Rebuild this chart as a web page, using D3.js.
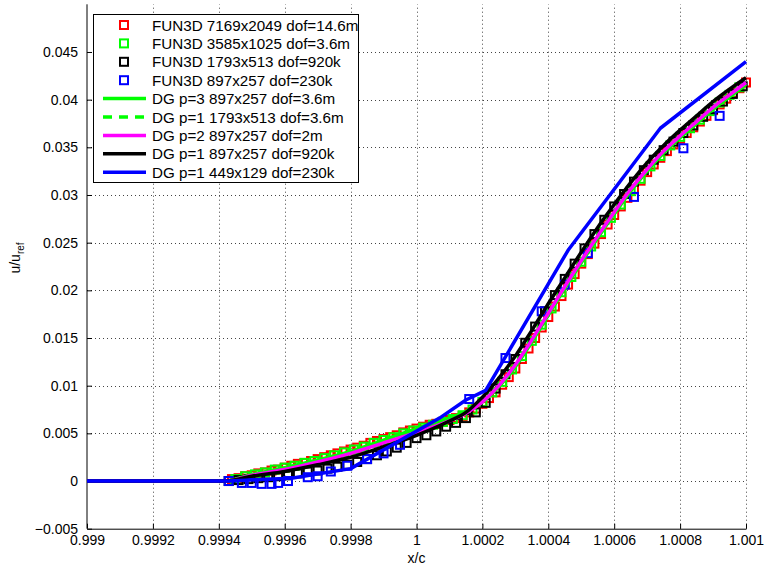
<!DOCTYPE html>
<html>
<head>
<meta charset="utf-8">
<script src="https://cdn.jsdelivr.net/npm/d3@7"></script>
<style>
  body { margin: 0; background: #fff; }
  svg { display: block; font-family: "Liberation Sans", Arial, Helvetica, sans-serif; }
</style>
</head>
<body>
<svg id="chart" width="764" height="569"></svg>
<script>
// axis ticks
var xTicks = [0.999, 0.9992, 0.9994, 0.9996, 0.9998, 1, 1.0002, 1.0004, 1.0006, 1.0008, 1.001];
var xTickLabels = ["0.999", "0.9992", "0.9994", "0.9996", "0.9998", "1", "1.0002", "1.0004", "1.0006", "1.0008", "1.001"];
var yTicks = [-0.005, 0, 0.005, 0.01, 0.015, 0.02, 0.025, 0.03, 0.035, 0.04, 0.045];
var yTickLabels = ["\u22120.005", "0", "0.005", "0.01", "0.015", "0.02", "0.025", "0.03", "0.035", "0.04", "0.045"];

// FUN3D 7169x2049
var fineX = [0.99944, 0.99946, 0.99948, 0.99950, 0.99952, 0.99954, 0.99956, 0.99958, 0.99960, 0.99962,
  0.99964, 0.99966, 0.99968, 0.99970, 0.99972, 0.99974, 0.99976, 0.99978, 0.99980, 0.99982,
  0.99984, 0.99986, 0.99988, 0.99990, 0.99992, 0.99994, 0.99996, 0.99998, 1.00000, 1.00002,
  1.00004, 1.00006, 1.00008, 1.00010, 1.00012, 1.00014, 1.00016, 1.00018, 1.00020, 1.00022,
  1.00024, 1.00026, 1.00028, 1.00030, 1.00032, 1.00034, 1.00036, 1.00038, 1.00040, 1.00042,
  1.00044, 1.00046, 1.00048, 1.00050, 1.00052, 1.00054, 1.00056, 1.00058, 1.00060, 1.00062,
  1.00064, 1.00066, 1.00068, 1.00070, 1.00072, 1.00074, 1.00076, 1.00078, 1.00080, 1.00082,
  1.00084, 1.00086, 1.00088, 1.00090, 1.00092, 1.00094, 1.00096, 1.00098, 1.00100];
var fineY = [0.0002, 0.0003, 0.0005, 0.0006, 0.0008, 0.0009, 0.0011, 0.0012, 0.0014, 0.0016,
  0.0018, 0.0019, 0.0021, 0.0023, 0.0025, 0.0027, 0.0029, 0.0031, 0.0033, 0.0035,
  0.0037, 0.0040, 0.0042, 0.0044, 0.0046, 0.0048, 0.0051, 0.0053, 0.0055, 0.0057,
  0.0059, 0.0060, 0.0062, 0.0064, 0.0066, 0.0068, 0.0072, 0.0076, 0.0081, 0.0087,
  0.0093, 0.0101, 0.0109, 0.0118, 0.0128, 0.0139, 0.0150, 0.0161, 0.0172, 0.0183,
  0.0194, 0.0206, 0.0217, 0.0228, 0.0238, 0.0249, 0.0259, 0.0269, 0.0279, 0.0288,
  0.0297, 0.0306, 0.0315, 0.0324, 0.0332, 0.0339, 0.0346, 0.0353, 0.0359, 0.0365,
  0.0371, 0.0377, 0.0383, 0.0389, 0.0395, 0.0401, 0.0407, 0.0412, 0.0418];

// FUN3D 3585x1025
var medX = [0.99945, 0.99948, 0.99951, 0.99954, 0.99957, 0.99960, 0.99963, 0.99966, 0.99969, 0.99972,
  0.99975, 0.99978, 0.99981, 0.99984, 0.99987, 0.99990, 0.99993, 0.99996, 0.99999, 1.00002,
  1.00005, 1.00008, 1.00011, 1.00014, 1.00017, 1.00020, 1.00023, 1.00026, 1.00029, 1.00032,
  1.00035, 1.00038, 1.00041, 1.00044, 1.00047, 1.00050, 1.00053, 1.00056, 1.00059, 1.00062,
  1.00065, 1.00068, 1.00071, 1.00074, 1.00077, 1.00080, 1.00083, 1.00086, 1.00089, 1.00092,
  1.00095, 1.00098];
var medY = [0.0002, 0.0005, 0.0007, 0.0009, 0.0012, 0.0014, 0.0016, 0.0019, 0.0021, 0.0024,
  0.0027, 0.0030, 0.0033, 0.0036, 0.0040, 0.0043, 0.0046, 0.0050, 0.0053, 0.0056,
  0.0059, 0.0062, 0.0065, 0.0069, 0.0075, 0.0083, 0.0093, 0.0104, 0.0117, 0.0131,
  0.0147, 0.0164, 0.0181, 0.0198, 0.0214, 0.0230, 0.0246, 0.0261, 0.0276, 0.0290,
  0.0304, 0.0317, 0.0330, 0.0341, 0.0352, 0.0361, 0.0370, 0.0379, 0.0388, 0.0397,
  0.0405, 0.0413];

// FUN3D 1793x513
var coarseX = [0.99943, 0.99946, 0.99949, 0.99952, 0.99955, 0.99958, 0.99961, 0.99964, 0.99967, 0.99970,
  0.99973, 0.99976, 0.99979, 0.99982, 0.99985, 0.99988, 0.99991, 0.99994, 0.99997, 1.00000,
  1.00003, 1.00006, 1.00009, 1.00012, 1.00015, 1.00018, 1.00021, 1.00024, 1.00027, 1.00030,
  1.00033, 1.00036, 1.00039, 1.00042, 1.00045, 1.00048, 1.00051, 1.00054, 1.00057, 1.00060,
  1.00063, 1.00066, 1.00069, 1.00072, 1.00075, 1.00078, 1.00081, 1.00084, 1.00087, 1.00090,
  1.00093, 1.00096, 1.00099];
var coarseY = [0.0000, 0.0001, 0.0002, 0.0003, 0.0004, 0.0005, 0.0006, 0.0008, 0.0010, 0.0011,
  0.0013, 0.0015, 0.0017, 0.0020, 0.0023, 0.0027, 0.0031, 0.0035, 0.0040, 0.0045,
  0.0048, 0.0052, 0.0057, 0.0061, 0.0066, 0.0072, 0.0082, 0.0097, 0.0112, 0.0128,
  0.0145, 0.0162, 0.0178, 0.0195, 0.0212, 0.0228, 0.0244, 0.0259, 0.0274, 0.0288,
  0.0301, 0.0314, 0.0326, 0.0337, 0.0347, 0.0356, 0.0365, 0.0373, 0.0382, 0.0390,
  0.0398, 0.0406, 0.0414];

// FUN3D 897x257
var crsX = [0.99943, 0.99947, 0.99950, 0.99953, 0.99956, 0.99958, 0.99961, 0.99967, 0.99970, 0.99974,
  0.99979, 0.99985, 0.99990, 0.99995, 1.00016, 1.00027, 1.00038, 1.00045, 1.00052, 1.00066,
  1.00081, 1.00092];
var crsY = [0.0000, -0.0002, -0.0002, -0.0003, -0.0003, -0.0002, 0.0000, 0.0004, 0.0005, 0.0010,
  0.0016, 0.0023, 0.0029, 0.0038, 0.0086, 0.0129, 0.0178, 0.0206, 0.0239, 0.0298,
  0.0349, 0.0383];

// DG solutions
var dgX = [0.999, 0.99942, 0.9995, 0.9996, 0.9997, 0.9998, 0.9999, 1.0, 1.0001, 1.00015,
  1.0002, 1.00025, 1.0003, 1.00035, 1.0004, 1.00045, 1.0005, 1.00055, 1.0006, 1.00065,
  1.0007, 1.00075, 1.0008, 1.00085, 1.0009, 1.00095, 1.001];
var dgP3Y = [0, 0, 0.0007, 0.0014, 0.0022, 0.0031, 0.0043, 0.0055, 0.0066, 0.0073,
  0.0083, 0.0099, 0.0120, 0.0146, 0.0174, 0.0202, 0.0229, 0.0255, 0.0280, 0.0304,
  0.0325, 0.0344, 0.0360, 0.0375, 0.0390, 0.0403, 0.0416];
var dgP1FineY = [0, 0, 0.0006, 0.0013, 0.0021, 0.0030, 0.0042, 0.0053, 0.0065, 0.0072,
  0.0083, 0.0100, 0.0121, 0.0147, 0.0175, 0.0203, 0.0230, 0.0256, 0.0281, 0.0305,
  0.0326, 0.0345, 0.0361, 0.0376, 0.0391, 0.0404, 0.0417];
var dgP2Y = [0, 0, 0.0006, 0.0012, 0.0020, 0.0029, 0.0040, 0.0051, 0.0063, 0.0071,
  0.0083, 0.0100, 0.0122, 0.0148, 0.0176, 0.0204, 0.0231, 0.0257, 0.0282, 0.0306,
  0.0327, 0.0346, 0.0362, 0.0377, 0.0392, 0.0405, 0.0418];
var dgP1Y = [0, 0, 0.0005, 0.0010, 0.0017, 0.0025, 0.0036, 0.0048, 0.0063, 0.0072,
  0.0088, 0.0108, 0.0131, 0.0158, 0.0186, 0.0213, 0.0240, 0.0266, 0.0290, 0.0313,
  0.0334, 0.0352, 0.0368, 0.0383, 0.0398, 0.0411, 0.0423];
var dgCoarseX = [0.999, 0.99943, 0.99962, 0.9998, 1.00007, 1.00015, 1.00021, 1.00046, 1.00074, 1.001];
var dgCoarseY = [0, 0, 0.0003, 0.0013, 0.0066, 0.0085, 0.0095, 0.0242, 0.0370, 0.0440];

var svg = d3.select("#chart");
var x = d3.scaleLinear().domain([0.999, 1.001]).range([87, 746]);
var y = d3.scaleLinear().domain([-0.005, 0.05]).range([528.7, 4.3]);

// dotted grid
var grid = svg.append("g").attr("stroke", "#444").attr("stroke-width", 1).attr("stroke-dasharray", "1,3");
grid.selectAll("line.gx").data(xTicks.slice(1)).enter().append("line")
  .attr("x1", function (d) { return Math.round(x(d)) + 0.5; })
  .attr("x2", function (d) { return Math.round(x(d)) + 0.5; })
  .attr("y1", y(-0.005)).attr("y2", y(0.05));
grid.selectAll("line.gy").data(yTicks.slice(1)).enter().append("line")
  .attr("y1", function (d) { return Math.round(y(d)) + 0.5; })
  .attr("y2", function (d) { return Math.round(y(d)) + 0.5; })
  .attr("x1", x(0.999)).attr("x2", x(1.001));

// axes
var xAxis = d3.axisBottom(x).tickValues(xTicks)
  .tickFormat(function (d, i) { return xTickLabels[i]; })
  .tickSizeInner(-5).tickSizeOuter(0).tickPadding(6);
var yAxis = d3.axisLeft(y).tickValues(yTicks)
  .tickFormat(function (d, i) { return yTickLabels[i]; })
  .tickSizeInner(-5).tickSizeOuter(0).tickPadding(9);

var gx = svg.append("g").attr("transform", "translate(0," + y(-0.005) + ")").call(xAxis);
var gy = svg.append("g").attr("transform", "translate(" + x(0.999) + ",0)").call(yAxis);
[gx, gy].forEach(function (g) {
  g.select(".domain").attr("stroke", "#000");
  g.selectAll(".tick line").attr("stroke", "#000");
  g.selectAll("text").attr("fill", "#000").style("font-size", "14px")
    .style("font-family", "'Liberation Sans', Arial, sans-serif");
});
// the y axis runs the full height
gy.select(".domain").attr("d", "M0," + y(0.05) + "V" + y(-0.005));

// axis titles
svg.append("text").attr("x", x(1)).attr("y", 563).attr("text-anchor", "middle")
  .style("font-size", "14px").text("x/c");
var yl = svg.append("text").attr("transform", "translate(20,258) rotate(-90)")
  .attr("text-anchor", "middle").style("font-size", "14px");
yl.append("tspan").text("u/u");
yl.append("tspan").attr("dy", 4).style("font-size", "10px").text("ref");

// square markers
var markerSize = 8;
function drawSquares(xs, ys, color) {
  svg.append("g").selectAll("rect").data(d3.zip(xs, ys)).enter().append("rect")
    .attr("x", function (d) { return x(d[0]) - markerSize / 2; })
    .attr("y", function (d) { return y(d[1]) - markerSize / 2; })
    .attr("width", markerSize).attr("height", markerSize)
    .attr("fill", "none").attr("stroke", color).attr("stroke-width", 2);
}
drawSquares(fineX, fineY, "#ff0000");
drawSquares(medX, medY, "#00ff00");
drawSquares(coarseX, coarseY, "#000000");
drawSquares(crsX, crsY, "#0000ff");

// DG lines
function drawLine(xs, ys, color, dash, curve) {
  var line = d3.line()
    .x(function (d) { return x(d[0]); })
    .y(function (d) { return y(d[1]); })
    .curve(curve);
  svg.append("path").datum(d3.zip(xs, ys)).attr("d", line)
    .attr("fill", "none").attr("stroke", color).attr("stroke-width", 3.5)
    .attr("stroke-dasharray", dash).attr("stroke-linejoin", "round");
}
drawLine(dgX, dgP3Y, "#00ff00", null, d3.curveMonotoneX);
drawLine(dgX, dgP1FineY, "#00ff00", "9,7", d3.curveMonotoneX);
drawLine(dgX, dgP2Y, "#ff00ff", null, d3.curveMonotoneX);
drawLine(dgX, dgP1Y, "#000000", null, d3.curveMonotoneX);
drawLine(dgCoarseX, dgCoarseY, "#0000ff", null, d3.curveLinear);

// legend
var legendItems = [
  { label: "FUN3D 7169x2049 dof=14.6m", color: "#ff0000", kind: "marker" },
  { label: "FUN3D 3585x1025 dof=3.6m", color: "#00ff00", kind: "marker" },
  { label: "FUN3D 1793x513 dof=920k", color: "#000000", kind: "marker" },
  { label: "FUN3D 897x257 dof=230k", color: "#0000ff", kind: "marker" },
  { label: "DG p=3 897x257 dof=3.6m", color: "#00ff00", kind: "line" },
  { label: "DG p=1 1793x513 dof=3.6m", color: "#00ff00", kind: "dash" },
  { label: "DG p=2 897x257 dof=2m", color: "#ff00ff", kind: "line" },
  { label: "DG p=1 897x257 dof=920k", color: "#000000", kind: "line" },
  { label: "DG p=1 449x129 dof=230k", color: "#0000ff", kind: "line" }
];
var legend = svg.append("g");
legend.append("rect").attr("x", 93.5).attr("y", 14.5).attr("width", 265).attr("height", 168)
  .attr("fill", "#fff").attr("stroke", "#000").attr("stroke-width", 1);
var rows = legend.selectAll("g.row").data(legendItems).enter().append("g")
  .attr("transform", function (d, i) { return "translate(0," + (25 + i * 18.4) + ")"; });
rows.filter(function (d) { return d.kind === "marker"; }).append("rect")
  .attr("x", 120).attr("y", -4).attr("width", markerSize).attr("height", markerSize)
  .attr("fill", "none").attr("stroke", function (d) { return d.color; }).attr("stroke-width", 2);
rows.filter(function (d) { return d.kind !== "marker"; }).append("line")
  .attr("x1", 103).attr("x2", 146).attr("y1", 0).attr("y2", 0)
  .attr("stroke", function (d) { return d.color; }).attr("stroke-width", 3.5)
  .attr("stroke-dasharray", function (d) { return d.kind === "dash" ? "9,7" : null; });
rows.append("text").attr("x", 152).attr("y", 5.5).style("font-size", "15.2px")
  .attr("fill", "#000").text(function (d) { return d.label; });
</script>
</body>
</html>
